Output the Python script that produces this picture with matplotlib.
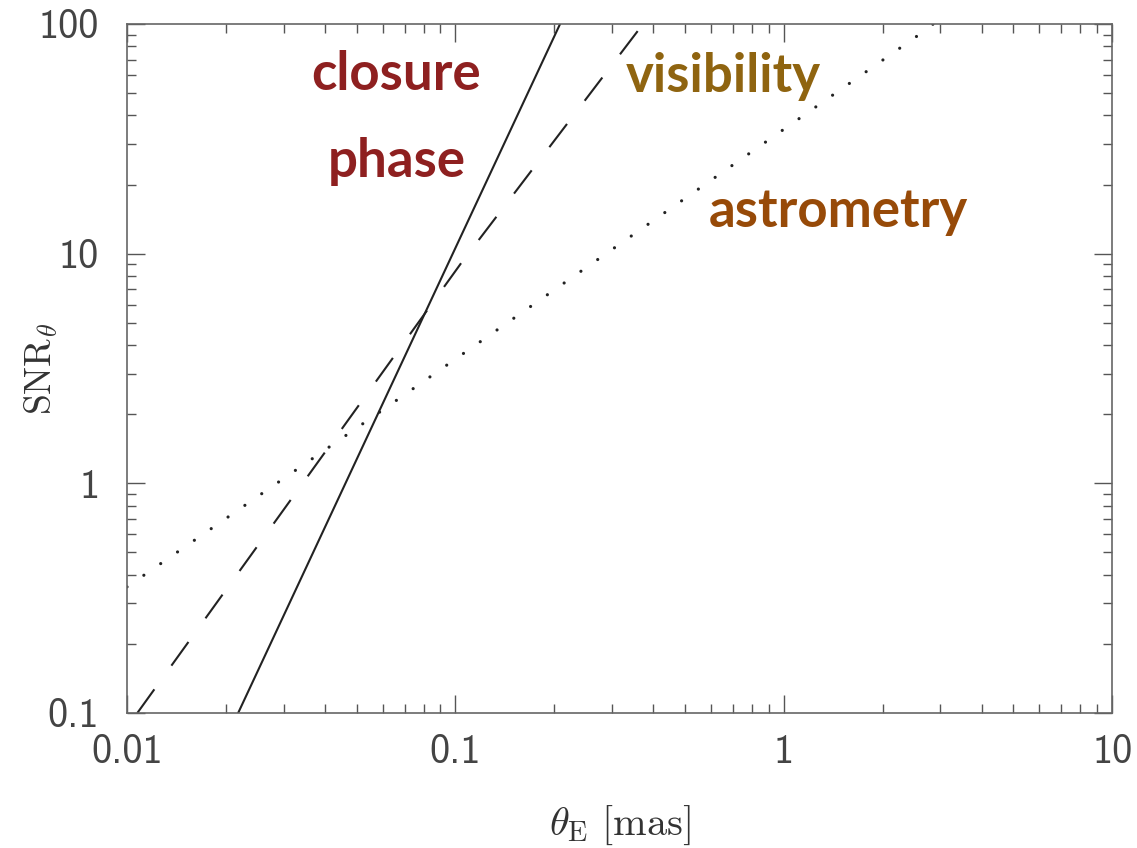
import os

import matplotlib
matplotlib.use('Agg')
import matplotlib.pyplot as plt
from matplotlib.font_manager import FontProperties
from matplotlib.ticker import LogLocator, NullFormatter

# Kurven (theta_E in mas, SNR)
closure_theta = [0.0218, 0.2083]
closure_snr = [0.1, 100.0]

visibility_theta = [0.01075, 0.1043, 0.3609, 0.373]
visibility_snr = [0.1, 9.13, 94.1, 100.0]

astrometry_theta = [0.01, 0.059, 2.554, 2.85]
astrometry_snr = [0.354, 2.05, 88.9, 100.0]

x_ticks = [0.01, 0.1, 1, 10]
x_tick_labels = ['0.01', '0.1', '1', '10']
y_ticks = [0.1, 1, 10, 100]
y_tick_labels = ['0.1', '1', '10', '100']

# Beschriftungen: Text, x, y (Grundlinie), Farbe
annotations = [
    ('closure', 0.0660, 51.5, '#8e2020'),
    ('phase', 0.0665, 21.6, '#8e2020'),
    ('visibility', 0.6566, 50.7, '#8f6410'),
    ('astrometry', 1.464, 13.0, '#974a08'),
]


def plot_snr(output_path: str) -> None:
    plt.rcParams['mathtext.fontset'] = 'cm'
    cmss = FontProperties(fname=os.path.join(matplotlib.get_data_path(), 'fonts', 'ttf', 'cmss10.ttf'),
                          size=29)

    fig = plt.figure(figsize=(11.37, 8.48), dpi=100)
    ax = fig.add_axes([0.1117, 0.1592, 0.8665, 0.8125])

    line_color = '#222222'
    ax.plot(closure_theta, closure_snr, color=line_color, lw=1.5)
    ax.plot(visibility_theta, visibility_snr, color=line_color, lw=1.5, dashes=(14, 14))
    ax.plot(astrometry_theta, astrometry_snr, color=line_color, lw=2.3,
            dashes=(0.01, 6.4), dash_capstyle='round')

    ax.set_xscale('log')
    ax.set_yscale('log')
    ax.set_xlim(0.01, 10)
    ax.set_ylim(0.1, 100)

    ax.set_xticks(x_ticks, x_tick_labels)
    ax.set_yticks(y_ticks, y_tick_labels)
    ax.xaxis.set_minor_locator(LogLocator(base=10, subs=range(2, 10)))
    ax.yaxis.set_minor_locator(LogLocator(base=10, subs=range(2, 10)))
    ax.xaxis.set_minor_formatter(NullFormatter())
    ax.yaxis.set_minor_formatter(NullFormatter())
    for label in ax.get_xticklabels() + ax.get_yticklabels():
        label.set_fontproperties(cmss)
        label.set_color('#444444')

    tick_color = '#555555'
    ax.tick_params(which='both', direction='in', top=True, right=True,
                   color=tick_color, width=1.0)
    ax.tick_params(which='major', length=13)
    ax.tick_params(which='minor', length=6.5)
    ax.tick_params(axis='x', which='major', pad=15)
    ax.tick_params(axis='y', which='major', pad=20)
    for spine in ax.spines.values():
        spine.set_color('#666666')
        spine.set_linewidth(1.2)

    ax.set_xlabel(r'$\theta_{\rm E}\ [\mathrm{mas}]$', fontsize=29, color='#333333', labelpad=24)
    ax.set_ylabel(r'$\mathrm{SNR}_\theta$', fontsize=27, color='#333333')
    ax.yaxis.set_label_coords(-0.068, 0.5)

    for text, x, y, color in annotations:
        ax.text(x, y, text, color=color, fontsize=38, fontweight='bold',
                family='Lato', ha='center', va='baseline')

    fig.savefig(output_path, dpi=100)
    plt.close(fig)


if __name__ == '__main__':
    plot_snr('out.png')
